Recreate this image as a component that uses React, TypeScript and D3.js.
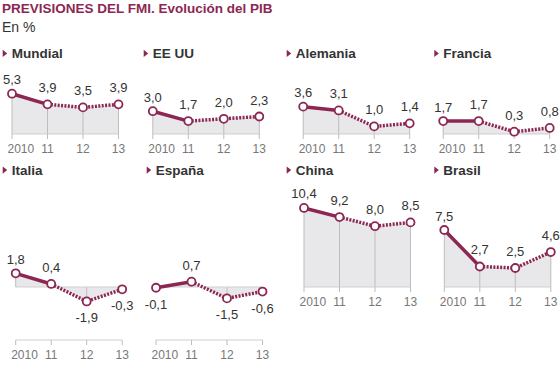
import React from "react";
import * as d3 from "d3";

const TITLE = "PREVISIONES DEL FMI. Evolución del PIB";
const SUBTITLE = "En %";
const YEARS = ["2010", "11", "12", "13"];
const COUNTRIES = ["Mundial", "EE UU", "Alemania", "Francia", "Italia", "España", "China", "Brasil"];

const mundial = [5.3, 3.9, 3.5, 3.9];
const eeuu = [3.0, 1.7, 2.0, 2.3];
const alemania = [3.6, 3.1, 1.0, 1.4];
const francia = [1.7, 1.7, 0.3, 0.8];
const italia = [1.8, 0.4, -1.9, -0.3];
const espana = [-0.1, 0.7, -1.5, -0.6];
const china = [10.4, 9.2, 8.0, 8.5];
const brasil = [7.5, 2.7, 2.5, 4.6];

const SERIES = [mundial, eeuu, alemania, francia, italia, espana, china, brasil];

// layout (not data)
const LAYOUT = [
  { x0: 12, tx: 11.7, row: 0, axisY: 134 },
  { x0: 152.8, tx: 152.7, row: 0, axisY: 134 },
  { x0: 303.2, tx: 295.7, row: 0, axisY: 134 },
  { x0: 443.2, tx: 443.3, row: 0, axisY: 134 },
  { x0: 15.7, tx: 11.7, row: 1, axisY: 340 },
  { x0: 156, tx: 155.7, row: 1, axisY: 340 },
  { x0: 304, tx: 295.7, row: 1, axisY: 287 },
  { x0: 444.3, tx: 443.3, row: 1, axisY: 287 },
];
const ROWS = [
  { zeroY: 134, titleY: 58.3 },
  { zeroY: 287, titleY: 175 },
];
const STEP = 35.5;
const PX_PER_UNIT = 7.6;
const MAIN = "#8c2753";
const FONT = "'Liberation Sans', Arial, sans-serif";

function Panel({ idx }: { idx: number }) {
  const values = SERIES[idx];
  const lay = LAYOUT[idx];
  const row = ROWS[lay.row];
  const x = d3.scaleLinear().domain([0, YEARS.length - 1]).range([lay.x0, lay.x0 + STEP * (YEARS.length - 1)]);
  const y = d3.scaleLinear().domain([0, 1]).range([row.zeroY, row.zeroY - PX_PER_UNIT]);
  const pts = values.map((v, i) => [x(i), y(v)] as [number, number]);
  const area = d3.area<[number, number]>().x((d) => d[0]).y0(y(0)).y1((d) => d[1]);
  const line = d3.line<[number, number]>().x((d) => d[0]).y((d) => d[1]);
  const tx = lay.tx;
  const ty = row.titleY;
  return (
    <g>
      <path d={`M${tx - 9},${ty - 8.5}L${tx - 9},${ty - 1.3}L${tx - 4.5},${ty - 4.9}Z`} fill={MAIN} />
      <text x={tx} y={ty} fontFamily={FONT} fontWeight="bold" fontSize={13.5} fill="#333">
        {COUNTRIES[idx]}
      </text>
      <path d={area(pts) || ""} fill="#e8e8ea" />
      {pts.map((p, i) => (
        <line key={"g" + i} x1={p[0]} x2={p[0]} y1={y(0)} y2={p[1]} stroke="#bdbdbd" strokeWidth={1} />
      ))}
      <line x1={x(0)} x2={x(YEARS.length - 1)} y1={y(0)} y2={y(0)} stroke="#cfcfcf" strokeWidth={1} />
      {lay.axisY !== row.zeroY && (
        <line x1={x(0)} x2={x(YEARS.length - 1)} y1={lay.axisY} y2={lay.axisY} stroke="#cfcfcf" strokeWidth={1} />
      )}
      {YEARS.map((yr, i) => (
        <line key={"t" + i} x1={x(i)} x2={x(i)} y1={lay.axisY} y2={lay.axisY + 5} stroke="#bdbdbd" strokeWidth={1} />
      ))}
      {YEARS.map((yr, i) => (
        <text
          key={"l" + i}
          x={i === 0 ? x(i) - 4.5 : x(i)}
          y={lay.axisY + 19}
          textAnchor={i === 0 ? "start" : "middle"}
          fontFamily={FONT}
          fontSize={12}
          fill="#777"
        >
          {yr}
        </text>
      ))}
      <path d={line(pts.slice(0, 2)) || ""} fill="none" stroke={MAIN} strokeWidth={3.5} />
      <path d={line(pts.slice(1)) || ""} fill="none" stroke={MAIN} strokeWidth={3.5} strokeDasharray="2,1.4" />
      {pts.map((p, i) => (
        <circle key={"c" + i} cx={p[0]} cy={p[1]} r={4} fill="#fff" stroke={MAIN} strokeWidth={1.8} />
      ))}
      {values.map((v, i) => (
        <text
          key={"v" + i}
          x={pts[i][0]}
          y={v < 0 ? pts[i][1] + 21 : pts[i][1] - (i === 0 ? 9.5 : 12)}
          textAnchor="middle"
          fontFamily={FONT}
          fontSize={13}
          fill="#333"
        >
          {d3.format(".1f")(v).replace(".", ",").replace("−", "-")}
        </text>
      ))}
    </g>
  );
}

export default function App() {
  return (
    <svg width={560} height={365} style={{ position: "absolute", left: 0, top: 0, background: "#fff" }}>
      <text x={2} y={13} fontFamily={FONT} fontWeight="bold" fontSize={13.5} fill={MAIN}>
        {TITLE}
      </text>
      <text x={2} y={31.5} fontFamily={FONT} fontSize={14} fill="#333">
        {SUBTITLE}
      </text>
      {SERIES.map((_, i) => (
        <Panel key={i} idx={i} />
      ))}
    </svg>
  );
}
